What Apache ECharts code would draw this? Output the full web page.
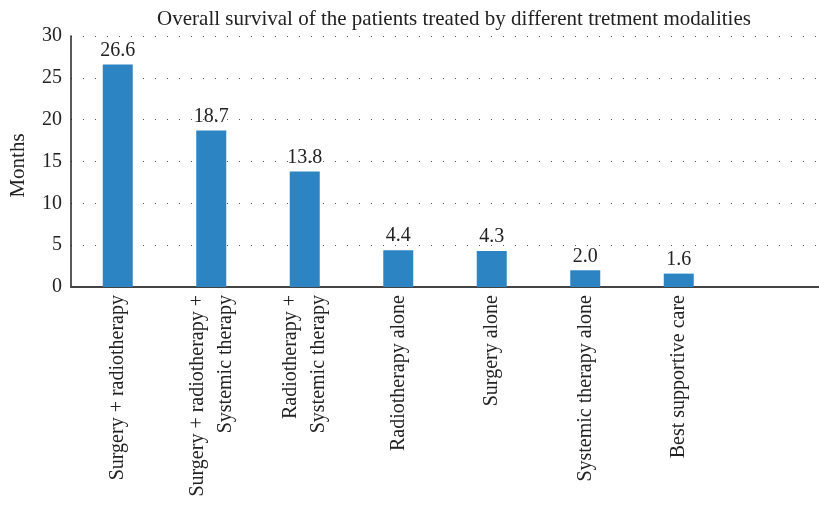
<!DOCTYPE html>
<html>
<head>
<meta charset="utf-8">
<script src="https://cdn.jsdelivr.net/npm/echarts@6/dist/echarts.min.js"></script>
<style>
  html, body { margin: 0; padding: 0; background: #fff; }
  #chart { width: 819px; height: 508px; }
</style>
</head>
<body>
<div id="chart"></div>
<script>
// data; the last slot is left empty on purpose
const categories = [
    "Surgery + radiotherapy",
    "Surgery + radiotherapy +\nSystemic therapy",
    "Radiotherapy +\nSystemic therapy",
    "Radiotherapy alone",
    "Surgery alone",
    "Systemic therapy alone",
    "Best supportive care",
    ""
];
const survivalMonths = [26.6, 18.7, 13.8, 4.4, 4.3, 2.0, 1.6, "-"];
const yTicks = [0, 5, 10, 15, 20, 25, 30];

const font = "'Liberation Serif', 'DejaVu Serif', serif";

const chart = echarts.init(document.getElementById("chart"));
chart.setOption({
    animation: false,
    title: {
        text: "Overall survival of the patients treated by different tretment modalities",
        left: 449,
        textAlign: "center",
        top: 4,
        textStyle: { fontFamily: font, fontSize: 21, fontWeight: "normal", color: "#222" }
    },
    grid: { left: 70, right: -6, top: 36, bottom: 221 },
    xAxis: {
        type: "category",
        data: categories,
        axisLine: { lineStyle: { color: "#444", width: 2 } },
        axisTick: { show: false },
        axisLabel: {
            rotate: 90,
            interval: 0,
            margin: 8,
            fontFamily: font,
            fontSize: 20,
            color: "#222",
            lineHeight: 28
        }
    },
    yAxis: {
        type: "value",
        min: yTicks[0],
        max: yTicks[yTicks.length - 1],
        interval: 5,
        name: "Months",
        nameLocation: "middle",
        nameGap: 42,
        nameTextStyle: { fontFamily: font, fontSize: 21, color: "#222", padding: [0, 8, 0, 0] },
        axisLine: { show: true, lineStyle: { color: "#222", width: 1.5 } },
        axisTick: { show: false },
        axisLabel: { fontFamily: font, fontSize: 20, color: "#222", margin: 9 },
        splitLine: { lineStyle: { color: "#555", type: [1, 11], width: 1.2 } }
    },
    series: [{
        type: "bar",
        data: survivalMonths,
        barWidth: 30,
        itemStyle: { color: "#2c84c3" },
        label: {
            show: true,
            position: "top",
            distance: 4,
            formatter: p => p.value.toFixed(1),
            fontFamily: font,
            fontSize: 20,
            color: "#222"
        }
    }]
});
</script>
</body>
</html>
